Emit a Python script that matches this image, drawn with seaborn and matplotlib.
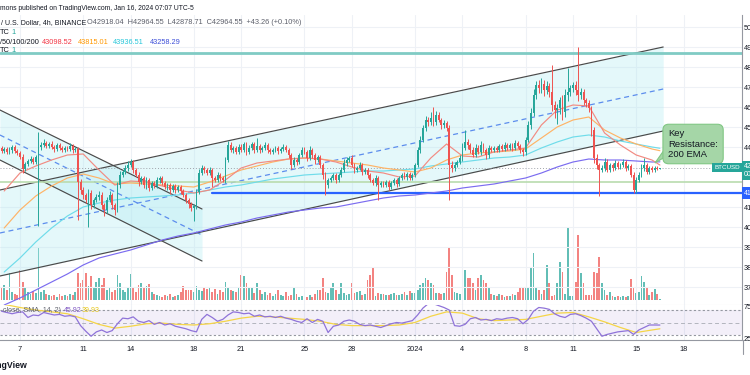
import numpy as np
import pandas as pd
import matplotlib
matplotlib.use("Agg")
import matplotlib.pyplot as plt
import matplotlib.dates as mdates
from matplotlib.lines import Line2D
from matplotlib.patches import Polygon
import seaborn as sns

# ---------------- data (BTCUSD 4h, Binance) ----------------
first_open = 43950

close = [
    43800,                                        # Dec 5 20:00
    43900, 43750, 43850, 44000, 43800, 43700,     # Dec 6
    43500, 42900, 43150, 43300, 43400, 43250,     # Dec 7
    43500, 44000, 44100, 44200, 44050, 44150,     # Dec 8
    44000, 43900, 44100, 43950, 43850, 43950,     # Dec 9
    43900, 44050, 43850, 43900, 42250, 41850,     # Dec 10
    41600, 41350, 41700, 41100, 41350, 41500,     # Dec 11
    41600, 41100, 40850, 41350, 41600, 41100,     # Dec 12
    40850, 42100, 42600, 42750, 42950, 43100,     # Dec 13
    43250, 42850, 42600, 42250, 42450, 42100,     # Dec 14
    42350, 41950, 42200, 42050, 42350, 42450,     # Dec 15
    42200, 42000, 42100, 41850, 42050, 41850,     # Dec 16
    42000, 41800, 41600, 41350, 41150, 40950,     # Dec 17
    41050, 41750, 42700, 42950, 42850, 42700,     # Dec 18
    42850, 42450, 42350, 42600, 42450, 42350,     # Dec 19
    43350, 44100, 43850, 43950, 43750, 44000,     # Dec 20
    43850, 44150, 43750, 43950, 44150, 43850,     # Dec 21
    44050, 43850, 43950, 44100, 43850, 43750,     # Dec 22
    43850, 43950, 43800, 43900, 44000, 43850,     # Dec 23
    43600, 43100, 43350, 43250, 43600, 43850,     # Dec 24
    43750, 43450, 43850, 43600, 43350, 43500,     # Dec 25
    43100, 42600, 42100, 42350, 42450, 42600,     # Dec 26
    42350, 42600, 42850, 43200, 43350, 43450,     # Dec 27
    43100, 42850, 42950, 43100, 42750, 42850,     # Dec 28
    42600, 42350, 42200, 42450, 42100, 42200,     # Dec 29
    42100, 42250, 42000, 42200, 42350, 42150,     # Dec 30
    42450, 42600, 42500, 42650, 42450, 42600,     # Dec 31
    43100, 43850, 44350, 44950, 45350, 45250,     # Jan 1
    45450, 45250, 45600, 45350, 45100, 45200,     # Jan 2
    44950, 43100, 42950, 43100, 43250, 43450,     # Jan 3
    43950, 44250, 44100, 43850, 43600, 43950,     # Jan 4
    43750, 44100, 43850, 43600, 43950, 43850,     # Jan 5
    43950, 43850, 44050, 43900, 44100, 43950,     # Jan 6
    44100, 43950, 44200, 44050, 43850, 43750,     # Jan 7
    44350, 45100, 45700, 46600, 47100, 46950,     # Jan 8
    47150, 46850, 47050, 46750, 46100, 45850,     # Jan 9
    45950, 46350, 45750, 46600, 46750, 46950,     # Jan 10
    47100, 46850, 46600, 46750, 46350, 46200,     # Jan 11
    45950, 44850, 43450, 43100, 42850, 42950,     # Jan 12
    43250, 42850, 43100, 42950, 43200, 43000,     # Jan 13
    43100, 43250, 42950, 43050, 42600, 41850,     # Jan 14
    42350, 42600, 42950, 43100, 42750, 42950,     # Jan 15
    42850, 42950, 42918.04, 42964.55,             # Jan 16
]

wick_up = [
    80,
    120, 90, 150, 100, 80, 110,
    90, 150, 120, 100, 130, 90,
    120, 750, 150, 200, 100, 120,
    150, 100, 120, 90, 110, 100,
    100, 150, 120, 100, 80, 150,
    150, 120, 200, 150, 100, 150,
    200, 150, 100, 150, 200, 120,
    100, 150, 200, 120, 150, 200,
    150, 120, 100, 150, 120, 100,
    150, 100, 120, 100, 150, 100,
    100, 80, 120, 100, 90, 80,
    100, 120, 90, 100, 80, 100,
    100, 150, 200, 150, 120, 100,
    150, 100, 120, 150, 100, 120,
    150, 200, 150, 120, 100, 150,
    150, 120, 100, 150, 120, 100,
    400, 100, 120, 150, 100, 90,
    100, 120, 90, 100, 150, 80,
    100, 120, 150, 100, 120, 150,
    150, 100, 200, 120, 90, 100,
    100, 120, 150, 100, 120, 100,
    120, 100, 150, 200, 150, 120,
    150, 100, 120, 150, 100, 120,
    100, 120, 90, 150, 100, 80,
    90, 100, 80, 100, 120, 90,
    120, 100, 150, 100, 90, 120,
    100, 150, 200, 150, 200, 150,
    300, 550, 200, 150, 120, 150,
    100, 150, 200, 150, 120, 150,
    250, 600, 150, 120, 150, 200,
    150, 200, 120, 100, 150, 100,
    100, 90, 120, 100, 150, 90,
    120, 100, 150, 100, 120, 100,
    150, 200, 250, 300, 200, 250,
    300, 200, 250, 150, 1350, 200,
    200, 150, 250, 300, 1200, 150,
    150, 200, 2150, 200, 150, 100,
    150, 100, 150, 200, 100, 150,
    200, 150, 120, 100, 150, 100,
    100, 150, 120, 100, 100, 150,
    150, 150, 200, 350, 120, 100,
    100, 80, 100, 0,
]

wick_dn = [
    100,
    100, 120, 90, 150, 100, 120,
    120, 200, 100, 120, 90, 100,
    100, 3450, 150, 100, 120, 100,
    100, 150, 90, 120, 100, 120,
    120, 100, 150, 100, 1900, 200,
    200, 150, 1350, 200, 150, 120,
    150, 200, 300, 150, 100, 200,
    250, 100, 150, 120, 100, 150,
    100, 150, 120, 200, 100, 150,
    200, 150, 100, 120, 100, 150,
    120, 100, 150, 200, 100, 150,
    100, 150, 120, 150, 200, 150,
    650, 150, 100, 120, 150, 100,
    100, 450, 120, 100, 150, 120,
    150, 100, 120, 150, 100, 120,
    120, 100, 150, 120, 100, 150,
    100, 150, 120, 100, 150, 120,
    120, 100, 150, 100, 120, 100,
    150, 200, 120, 150, 100, 120,
    100, 150, 120, 150, 200, 120,
    150, 200, 500, 150, 100, 120,
    150, 100, 120, 100, 150, 100,
    120, 150, 100, 120, 150, 100,
    150, 120, 100, 150, 750, 120,
    120, 100, 150, 100, 120, 150,
    100, 120, 100, 150, 100, 120,
    100, 120, 150, 100, 150, 200,
    150, 200, 150, 120, 200, 150,
    150, 1750, 200, 150, 120, 100,
    150, 120, 200, 150, 120, 100,
    120, 150, 100, 200, 150, 120,
    100, 120, 90, 100, 120, 100,
    100, 150, 120, 100, 150, 200,
    150, 100, 200, 150, 200, 250,
    250, 300, 200, 250, 300, 400,
    700, 300, 400, 250, 300, 200,
    200, 250, 300, 200, 250, 200,
    200, 300, 250, 200, 1300, 100,
    150, 120, 100, 150, 120, 100,
    120, 100, 150, 120, 100, 150,
    150, 100, 120, 150, 100, 120,
    100, 80, 60, 39.33,
]

volume = [
    12,
    15, 10, 27, 8, 6, 5,
    30, 18, 13, 8, 6, 9,
    7, 52, 8, 10, 6, 5,
    4, 5, 3, 6, 4, 5,
    4, 6, 5, 8, 27, 17,
    20, 27, 14, 24, 12, 18,
    22, 15, 22, 10, 12, 8,
    10, 25, 17, 10, 8, 12,
    26, 12, 8, 15, 17, 12,
    14, 16, 8, 6, 5, 4,
    3, 5, 4, 6, 3, 4,
    5, 8, 14, 10, 10, 10,
    8, 14, 10, 9, 13, 11,
    13, 8, 11, 6, 10, 8,
    18, 13, 10, 9, 8, 12,
    25, 24, 17, 12, 13, 7,
    17, 10, 6, 8, 5, 7,
    4, 6, 10, 5, 4, 8,
    4, 5, 12, 6, 3, 4,
    4, 3, 5, 3, 6, 10,
    10, 22, 8, 7, 13, 17,
    10, 6, 17, 7, 5, 6,
    17, 7, 8, 9, 5, 6,
    20, 25, 32, 4, 7, 6,
    6, 5, 5, 6, 7, 5,
    5, 6, 8, 5, 9, 7,
    7, 10, 15, 17, 22, 20,
    17, 15, 7, 7, 6, 7,
    28, 53, 25, 8, 7, 6,
    25, 30, 22, 22, 17, 10,
    22, 25, 20, 17, 13, 6,
    5, 4, 6, 5, 3, 4,
    4, 6, 5, 8, 13, 12,
    13, 13, 33, 47, 13, 10,
    6, 10, 35, 17, 4, 5,
    17, 38, 28, 6, 72, 4,
    4, 18, 65, 27, 17, 5,
    5, 5, 28, 27, 43, 17,
    10, 5, 8, 4, 3, 4,
    3, 4, 3, 4, 21, 12,
    7, 8, 24, 18, 12, 5,
    8, 11, 6, 1,
]

# RSI(14), one reading every 8h
rsi = [
    68,
    66, 64, 66, 67, 58, 62, 61, 66, 64, 62, 63, 60, 61, 59, 45,
    36, 28, 35, 38, 34, 37, 48, 57, 56, 59, 52, 50, 53, 47, 50,
    46, 48, 44, 42, 40, 37, 35, 55, 63, 58, 52, 55, 62, 67, 66,
    64, 65, 60, 62, 59, 60, 58, 60, 57, 55, 52, 50, 56, 50, 55,
    52, 34, 44, 46, 52, 54, 52, 47, 45, 46, 44, 42, 45, 48, 50,
    49, 51, 53, 62, 73, 80, 80, 77, 74, 70, 45, 44, 47, 56, 58,
    54, 55, 53, 56, 55, 57, 58, 56, 48, 55, 68, 74, 73, 71, 64,
    60, 58, 63, 64, 61, 57, 52, 40, 28, 31, 33, 35, 36, 37, 31,
    38, 42, 46, 46, 45.92,
]
# SMA(14) of RSI, one reading per day + last bar
rsi_ma = [79, 74, 70, 67, 64, 56, 47, 41, 44, 48, 49, 47, 46, 48, 52, 57, 60,
          59, 57, 55, 52, 47, 45, 45, 45, 46, 50, 60, 67, 65, 56, 53, 54, 55,
          60, 65, 66, 59, 51, 42, 34, 38, 39.93]

# EMA 20/50/100/200, one reading per day + last bar
ema20 = [41800, 42700, 43050, 43350, 43600, 43650, 42850, 42100, 42300, 42250,
         42050, 41850, 41700, 41850, 42350, 42950, 43200, 43300, 43400, 43450,
         43400, 43250, 43000, 42800, 42700, 42500, 42550, 43450, 44150, 43550,
         43500, 43750, 43850, 43950, 45100, 45850, 46100, 46050, 44700, 44100,
         43600, 43350, 43098.52]
ema50 = [39950, 40850, 41550, 42050, 42450, 42650, 42450, 42150, 42200, 42150,
         42100, 42050, 42000, 42250, 42550, 42850, 43050, 43250, 43400, 43450,
         43400, 43300, 43200, 43100, 42950, 42850, 42750, 42950, 43350, 43600,
         43700, 43750, 43800, 43900, 44450, 45000, 45350, 45500, 44850, 44450,
         44150, 43900, 43815.01]
ema100 = [37750, 38450, 39250, 39950, 40550, 41000, 41200, 41350, 41450, 41500,
          41550, 41600, 41700, 41850, 42000, 42100, 42250, 42400, 42500, 42600,
          42650, 42700, 42750, 42800, 42800, 42850, 42900, 43050, 43150, 43250,
          43350, 43450, 43500, 43600, 43950, 44250, 44500, 44600, 44500, 44300,
          44150, 44000, 43936.51]
ema200 = [36100, 36450, 36850, 37250, 37650, 38100, 38450, 38650, 38850, 39100,
          39350, 39550, 39700, 39900, 40100, 40250, 40450, 40600, 40750, 40850,
          40950, 41000, 41150, 41300, 41450, 41550, 41600, 41700, 41800, 41950,
          42050, 42150, 42300, 42450, 42700, 43000, 43250, 43400, 43350, 43350,
          43300, 43250, 43258.29]

# drawings: channels (start/end time, price) and horizontal levels
desc_dates = ["2023-12-05 17:30", "2023-12-18 12:30"]
desc_upper = [45850, 40900]
desc_mid = [44600, 39600]
desc_lower = [43350, 38300]
asc_dates = ["2023-12-05 17:30", "2024-01-16 17:00"]
asc_upper = [41850, 49000]
asc_mid = [39700, 46900]
asc_lower = [37550, 44800]
top_level = 48700
green_level = 42250
support_level = 41700
support_start = "2023-12-19 04:00"
last_price = 42964.55
callout_tip = ("2024-01-16 04:30", 43200)

date_ticks = ["2023-12-07", "2023-12-11", "2023-12-14", "2023-12-18", "2023-12-21",
              "2023-12-25", "2023-12-28", "2024-01-01", "2024-01-04", "2024-01-08",
              "2024-01-11", "2024-01-15", "2024-01-18"]
date_labels = ["7", "11", "14", "18", "21", "25", "28", "2024", "4", "8", "11", "15", "18"]
price_ticks = [37000, 38000, 39000, 40000, 41000, 44000, 45000, 46000, 47000, 48000, 49000, 50000]

# ---------------- colours ----------------
UP, DOWN = "#26a69a", "#ef5350"
C20, C50, C100, C200 = "#f28b82", "#ffb366", "#6fdcea", "#7b6cf0"
GRID = "#eef1f6"
TXT = "#131722"
BOX_FC, BOX_EC = "#a5d6a7", "#81c784"

sns.set_theme(style="white")
plt.rcParams["font.family"] = ["Liberation Sans", "DejaVu Sans"]

W, H = 750, 375
fx = lambda px: px / W
fy = lambda py: 1 - py / H

fig = plt.figure(figsize=(7.5, 3.75), dpi=100)
fig.patch.set_facecolor("white")

ax_vol = fig.add_axes([0, fy(300), fx(742), (300 - 15) / H])
ax = fig.add_axes([0, fy(305), fx(742), (305 - 15) / H])
ax_rsi = fig.add_axes([0, fy(340), fx(742), (340 - 305) / H])
ax.patch.set_alpha(0)

origin = mdates.date2num(pd.Timestamp("2023-12-07"))
px_day = 15.8
xlim = (origin - 20 / px_day, origin + 722 / px_day)
num = lambda s: mdates.date2num(pd.Timestamp(s))

times = pd.date_range("2023-12-05 20:00", periods=len(close), freq="4h")
tx = mdates.date2num(times)
c = np.array(close, float)
o = np.r_[first_open, c[:-1]]
hi = np.maximum(o, c) + np.array(wick_up, float)
lo = np.minimum(o, c) - np.array(wick_dn, float)
col = np.where(c >= o, UP, DOWN)
bw = 4 / 24 * 0.68

# volume
ax_vol.bar(tx, volume, width=bw, color=col, alpha=0.72, linewidth=0)
ax_vol.set_xlim(xlim)
ax_vol.set_ylim(0, 285)
ax_vol.axis("off")

# grid
ticks_num = mdates.date2num(pd.to_datetime(date_ticks))
for a in (ax, ax_rsi):
    a.set_xlim(xlim)
    a.set_xticks(ticks_num)
    a.grid(axis="x", color=GRID, linewidth=0.8)
ax.set_ylim(36100, 50600)
ax.set_yticks(np.arange(37000, 50001, 1000))
ax.grid(axis="y", color=GRID, linewidth=0.8)
ax.set_axisbelow(True)

# channels
dx = mdates.date2num(pd.to_datetime(desc_dates))
ax.fill_between(dx, desc_upper, desc_lower, color="#b2ebf2", alpha=0.35, linewidth=0, zorder=1)
ax.plot(dx, desc_upper, color="#4a4a4a", lw=0.85, zorder=1.5)
ax.plot(dx, desc_lower, color="#4a4a4a", lw=0.85, zorder=1.5)
ax.plot(dx, desc_mid, color="#5c8ded", lw=0.9, ls=(0, (4, 3)), zorder=1.5)
axx = mdates.date2num(pd.to_datetime(asc_dates))
ax.fill_between(axx, asc_upper, asc_lower, color="#b2ebf2", alpha=0.35, linewidth=0, zorder=1)
ax.plot(axx, asc_upper, color="#4a4a4a", lw=0.85, zorder=1.5)
ax.plot(axx, asc_lower, color="#4a4a4a", lw=0.85, zorder=1.5)
ax.plot(axx, asc_mid, color="#5c8ded", lw=0.9, ls=(0, (4, 3)), zorder=1.5)

# horizontal levels
ax.axhline(top_level, color="#80cbc4", lw=2, zorder=1.6)
ax.axhline(green_level, color="#b9dcae", lw=1.2, zorder=1.6)
ax.axhline(last_price, color="#a0a3ab", lw=0.7, ls=(0, (1, 2)), zorder=1.6)
ax.plot([num(support_start), xlim[1]], [support_level] * 2, color="#2962ff", lw=1.6, zorder=1.7)

# EMAs
ema_x = np.r_[tx[1::6], tx[-1]]
for vals, cc in ((ema200, C200), (ema100, C100), (ema50, C50), (ema20, C20)):
    sns.lineplot(x=ema_x, y=vals, ax=ax, color=cc, lw=0.85, zorder=2)

# candles
ax.vlines(tx, lo, hi, colors=col, lw=0.7, zorder=3)
ax.bar(tx, np.maximum(np.abs(c - o), 30), bottom=np.minimum(o, c), width=bw,
       color=col, linewidth=0, zorder=3.1)

# callout box with tail pointing at the 200 EMA
tip_x, tip_y = num(callout_tip[0]), callout_tip[1]
box_left = num("2024-01-16 19:30")
ax.add_patch(Polygon([[box_left, 43900], [box_left, 43500], [tip_x, tip_y]], closed=True,
                     fc=BOX_FC, ec=BOX_EC, lw=0.8, zorder=5.5))
ax.text(num("2024-01-17 00:30"), 44150, "Key\nResistance:\n200 EMA",
        ha="left", va="center", fontsize=6.8, color=TXT, linespacing=1.15, zorder=6,
        bbox=dict(boxstyle="round,pad=0.55,rounding_size=0.6", fc=BOX_FC, ec=BOX_EC, lw=0.8))

# price-axis styling
ax.yaxis.tick_right()
ax.set_yticks(price_ticks)
ax.set_yticklabels([f"{v:.2f}" for v in price_ticks])
ax.tick_params(axis="y", length=0, labelsize=5.3, labelcolor=TXT, pad=1.2)
ax.tick_params(axis="x", length=0, labelbottom=False)
for s in ("top", "left"):
    ax.spines[s].set_visible(False)
ax.spines["right"].set_color("#9598a1")
ax.spines["right"].set_linewidth(0.8)
ax.spines["bottom"].set_color("#e0e3eb")
ax.spines["bottom"].set_linewidth(0.8)
ax.set_xlabel("")
ax.set_ylabel("")
ax.set_ylim(36100, 50600)

ytr = ax.get_yaxis_transform()
ax.text(0.997, last_price, "BTCUSD", transform=ytr, ha="right", va="center", fontsize=4.5,
        color="white", bbox=dict(boxstyle="square,pad=0.3", fc=UP, ec="none"), zorder=7)
ax.text(1.003, 42820, "42964.55\n00:52:53", transform=ytr, ha="left", va="center",
        fontsize=5.0, color="white", linespacing=1.1, clip_on=False,
        bbox=dict(boxstyle="square,pad=0.3", fc=UP, ec="none"), zorder=7)
ax.text(1.003, support_level, "41700.00", transform=ytr, ha="left", va="center",
        fontsize=5.0, color="white", clip_on=False,
        bbox=dict(boxstyle="square,pad=0.3", fc="#2962ff", ec="none"), zorder=7)

# RSI pane
rsi_x = tx[::2]
ma_x = np.r_[tx[1::6], tx[-1]]
ax_rsi.axhspan(30, 70, color="#7e57c2", alpha=0.09, linewidth=0)
ax_rsi.axhline(70, color="#9598a1", lw=0.8, ls=(0, (2, 2)))
ax_rsi.axhline(30, color="#9598a1", lw=0.8, ls=(0, (2, 2)))
ax_rsi.axhline(50, color="#b2b5be", lw=0.7, ls=(0, (4, 3)))
sns.lineplot(x=ma_x, y=rsi_ma, ax=ax_rsi, color="#f5d547", lw=0.9)
sns.lineplot(x=rsi_x, y=rsi, ax=ax_rsi, color="#8f73d9", lw=0.9)
ax_rsi.set_ylim(22, 78)
ax_rsi.yaxis.tick_right()
ax_rsi.set_yticks([75, 25])
ax_rsi.set_yticklabels(["75.00", "25.00"])
ax_rsi.tick_params(axis="y", length=0, labelsize=5.3, labelcolor=TXT, pad=1.2)
ax_rsi.set_xticklabels(date_labels)
ax_rsi.tick_params(axis="x", length=0, labelsize=5.3, labelcolor=TXT, pad=4)
for s in ("top", "left"):
    ax_rsi.spines[s].set_visible(False)
for s in ("right", "bottom"):
    ax_rsi.spines[s].set_color("#9598a1")
    ax_rsi.spines[s].set_linewidth(0.8)
ax_rsi.set_xlabel("")
ax_rsi.set_ylabel("")
fig.add_artist(Line2D([fx(742.5)] * 2, [fy(340), fy(354)], color="#9598a1", lw=0.8))

# header / legends
fig.text(fx(0), fy(8), "mons published on TradingView.com, Jan 16, 2024 07:07 UTC-5",
         fontsize=4.9, color=TXT, va="center")
fig.text(fx(1), fy(23), "/ U.S. Dollar, 4h, BINANCE", fontsize=5.0, color=TXT, va="center")
fig.text(fx(87), fy(23), "O42918.04  H42964.55  L42878.71  C42964.55  +43.26 (+0.10%)",
         fontsize=5.3, color="#5d606b", va="center")
for yy in (32, 51):
    fig.text(fx(0), fy(yy), "TC", fontsize=5.3, color=TXT, va="center")
    fig.text(fx(11), fy(yy), "1", fontsize=5.3, color=UP, va="center")
fig.text(fx(0), fy(42), "/50/100/200", fontsize=5.3, color=TXT, va="center")
for px, s, cc in ((42, "43098.52", "#f23645"), (78, "43815.01", "#ff9800"),
                  (113, "43936.51", "#26c6da"), (150, "43258.29", "#3d4fd8")):
    fig.text(fx(px), fy(42), s, fontsize=5.3, color=cc, va="center")
fig.text(fx(3), fy(311), "close, SMA, 14, 2)", fontsize=5.0, color="#5d606b", va="center")
fig.text(fx(64), fy(311), "45.92", fontsize=5.0, color="#7e57c2", va="center")
fig.text(fx(82), fy(311), "39.93", fontsize=5.0, color="#e6c619", va="center")
fig.text(fx(28), fy(365), "TradingView", fontsize=6.3, fontweight="bold", color=TXT,
         ha="right", va="center")

fig.savefig("out.png", dpi=100)
